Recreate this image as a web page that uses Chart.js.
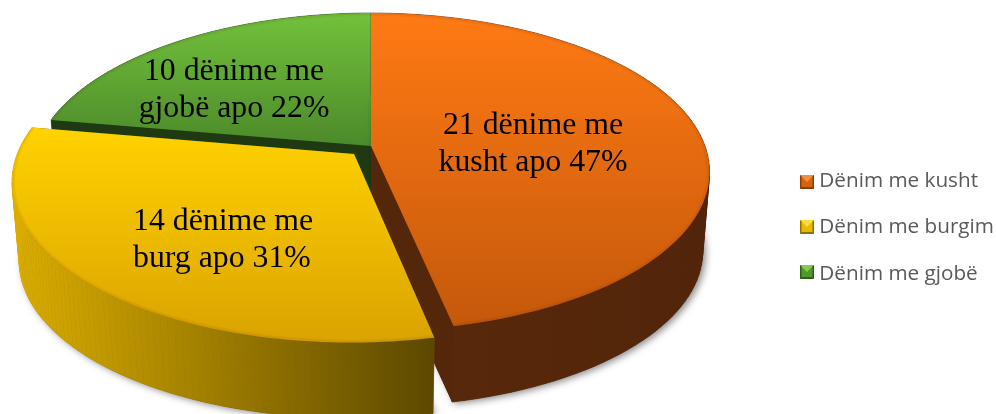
<!DOCTYPE html>
<html><head><meta charset="utf-8">
<style>html,body{margin:0;padding:0;background:#fff}canvas{display:block}</style>
<script src="https://cdn.jsdelivr.net/npm/chart.js@4"></script>
</head><body><canvas id="c" width="996" height="414"></canvas>
<script>
const categories = ['Dënim me kusht', 'Dënim me burgim', 'Dënim me gjobë'];
const counts = [21, 14, 10];
const baseColors = ['#e0660f', '#f0c000', '#5a9e30'];
const explode = [0, 55, 0];
const labelLines = [['21 dënime me', 'kusht apo 47%'], ['14 dënime me', 'burg apo 31%'], ['10 dënime me', 'gjobë apo 22%']];
const topShades = [['#ff7a14', '#c4580b', 13, 327], ['#ffd200', '#dba400', 129, 338], ['#72c13b', '#4c8a2a', 13, 146]];
const wallShades = [['#58280a', '#52250a', 450, 700], ['#dcae00', '#5c4800', 12, 433], ['#1f3a13', '#1f3a13', 50, 370]];
const innerWalls = ['#55270a', '#5c4800', '#1f3a13'];
const iconShades = [['#f0903f', '#d9620f', '#8a3f0b'], ['#ffdc3c', '#eab800', '#8f7000'], ['#85cc55', '#4f9a2b', '#2f5f18']];

const P = {cx: 371, cy: 146, A: 334, B: 154.7, k: 0.1635, s: 0.98, D: 79.6};
const project = (X, Y) => { const w = 1 - P.k * Y; return [P.cx + P.A * X / w, P.cy + P.B * Y / w]; };
const lower = p => [P.cx + P.s * (p[0] - P.cx), P.cy + P.s * (p[1] - P.cy) + P.D];

function outline(arc) {
  const {startAngle: a0, endAngle: a1, outerRadius: R} = arc.getProps(['startAngle', 'endAngle', 'outerRadius'], true);
  const mid = (a0 + a1) / 2, d = (arc.options.offset || 0) / 4 / R;
  const ox = Math.cos(mid) * d, oy = Math.sin(mid) * d, n = 90, pts = [];
  for (let i = 0; i <= n; i++) {
    const a = a0 + (a1 - a0) * i / n;
    pts.push(project(Math.cos(a) + ox, Math.sin(a) + oy));
  }
  return {apex: project(ox, oy), pts};
}
function poly(ctx, list) {
  ctx.beginPath();
  list.forEach((p, i) => i ? ctx.lineTo(p[0], p[1]) : ctx.moveTo(p[0], p[1]));
  ctx.closePath();
}
const pie3d = {
  id: 'pie3d',
  beforeDatasetDraw(chart) {
    const ctx = chart.ctx, arcs = chart.getDatasetMeta(0).data;
    [2, 0, 1].forEach(i => {
      const {apex, pts} = outline(arcs[i]);
      const face = [apex, ...pts];
      const low = face.map(lower);
      ctx.save();
      ctx.shadowColor = 'rgba(0,0,0,0.45)'; ctx.shadowBlur = 7; ctx.shadowOffsetX = 3; ctx.shadowOffsetY = 2;
      ctx.fillStyle = innerWalls[i];
      poly(ctx, low); ctx.fill();
      ctx.restore();
      ctx.fillStyle = ctx.strokeStyle = innerWalls[i];
      poly(ctx, [apex, pts[0], lower(pts[0]), lower(apex)]); ctx.fill();
      poly(ctx, [apex, pts[pts.length - 1], lower(pts[pts.length - 1]), lower(apex)]); ctx.fill();
      const w = wallShades[i], g = ctx.createLinearGradient(w[2], 0, w[3], 0);
      g.addColorStop(0, w[0]); g.addColorStop(1, w[1]);
      ctx.fillStyle = ctx.strokeStyle = g; ctx.lineWidth = 0.6;
      for (let j = 0; j < pts.length - 1; j++) {
        poly(ctx, [pts[j], pts[j + 1], lower(pts[j + 1]), lower(pts[j])]);
        ctx.fill(); ctx.stroke();
      }
      const t = topShades[i], tg = ctx.createLinearGradient(0, t[2], 0, t[3]);
      tg.addColorStop(0, t[0]); tg.addColorStop(1, t[1]);
      ctx.fillStyle = tg;
      poly(ctx, face); ctx.fill();
      ctx.save();
      poly(ctx, face); ctx.clip();
      ctx.beginPath();
      pts.forEach((p, j) => j ? ctx.lineTo(p[0], p[1]) : ctx.moveTo(p[0], p[1]));
      ctx.strokeStyle = 'rgba(70,30,0,0.05)';
      [6, 3].forEach(lw => { ctx.lineWidth = lw; ctx.stroke(); });
      ctx.restore();
    });
    return false;
  },
  afterDraw(chart) {
    const ctx = chart.ctx;
    [175, 220, 265].forEach((y, i) => {
      const s = 14, x = 800, c = iconShades[i];
      ctx.fillStyle = c[1]; ctx.fillRect(x, y, s, s);
      ctx.fillStyle = c[0]; poly(ctx, [[x, y], [x + s, y], [x + s / 2, y + s / 2]]); ctx.fill();
      ctx.fillStyle = c[2]; poly(ctx, [[x, y + s], [x + s, y + s], [x + s - 2, y + s - 2], [x + 2, y + s - 2]]); ctx.fill();
      poly(ctx, [[x, y], [x + 1.5, y + 1.5], [x + 1.5, y + s - 1], [x, y + s]]); ctx.fill();
      poly(ctx, [[x + s, y], [x + s - 1.5, y + 1.5], [x + s - 1.5, y + s - 1], [x + s, y + s]]); ctx.fill();
    });
    ctx.fillStyle = '#000';
    ctx.font = '31.8px "Liberation Serif"';
    ctx.textBaseline = 'alphabetic';
    const spots = [[533, 134, 'center'], [133, 230, 'left'], [234, 80, 'center']];
    labelLines.forEach((lines, i) => {
      ctx.textAlign = spots[i][2];
      lines.forEach((s, j) => ctx.fillText(s, spots[i][0], spots[i][1] + j * 37));
    });
  },
  afterLayout(chart) {
    const l = chart.legend, w = l.width, h = l.height, pad = l.options.labels.padding;
    l.left = 800 - pad; l.right = l.left + w;
    l.top = 20.5 + (414 - h) / 2; l.bottom = l.top + h;
  }
};
new Chart(document.getElementById('c'), {
  type: 'pie',
  data: {labels: categories, datasets: [{data: counts, backgroundColor: baseColors, borderWidth: 0, offset: explode}]},
  options: {
    responsive: false, animation: false, radius: 190,
    layout: {padding: 0},
    plugins: {
      tooltip: {enabled: false},
      legend: {
        position: 'right',
        labels: {boxWidth: 9, boxHeight: 9, padding: 25.5, color: '#595959', font: {family: 'Open Sans', size: 20.7}}
      }
    }
  },
  plugins: [pie3d]
});
</script></body></html>
